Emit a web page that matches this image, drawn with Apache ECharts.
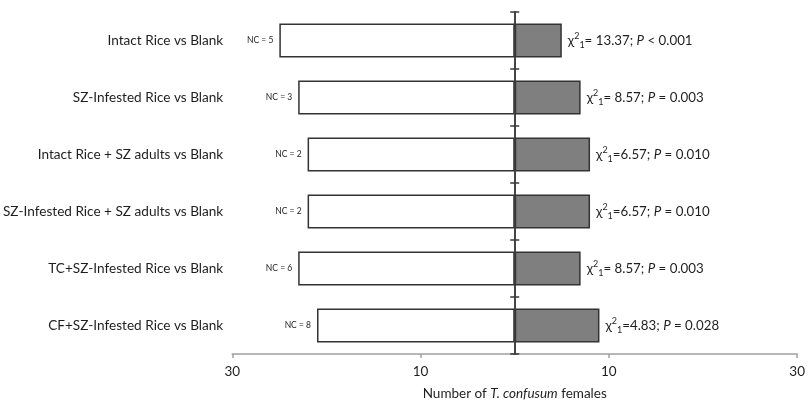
<!DOCTYPE html>
<html><head><meta charset="utf-8">
<script src="https://cdn.jsdelivr.net/npm/echarts@6/dist/echarts.min.js"></script>
<style>html,body{margin:0;padding:0;background:#fff}#c{width:808px;height:406px}</style>
</head><body><div id="c"></div>
<script>
const categories = [
  'Intact Rice vs Blank',
  'SZ-Infested Rice vs Blank',
  'Intact Rice + SZ adults vs Blank',
  'SZ-Infested Rice + SZ adults vs Blank',
  'TC+SZ-Infested Rice vs Blank',
  'CF+SZ-Infested Rice vs Blank'
];
const leftCounts = [25, 23, 22, 22, 23, 21];
const rightCounts = [5, 7, 8, 8, 7, 9];
const ncLabels = ['NC = 5', 'NC = 3', 'NC = 2', 'NC = 2', 'NC = 6', 'NC = 8'];
const chiTexts = ['= 13.37', '= 8.57', '=6.57', '=6.57', '= 8.57', '=4.83'];
const pTexts = ['< 0.001', '= 0.003', '= 0.010', '= 0.010', '= 0.003', '= 0.028'];
const xTickValues = [-30, -10, 10, 30];

const FONT = 'Lato';
const TXT = '#1e1e1e';
const chart = echarts.init(document.getElementById('c'), null, {renderer: 'canvas'});

const catAxisBase = {
  type: 'category', data: categories, inverse: true, boundaryGap: true
};

chart.setOption({
  animation: false,
  grid: {left: 232, right: 6, top: 12, bottom: 50, containLabel: false},
  xAxis: [
    {
      type: 'value', min: -30, max: 30, position: 'bottom',
      axisLine: {show: true, onZero: false, lineStyle: {color: '#a0a0a0', width: 1.5}},
      axisTick: {show: true, length: 4, customValues: xTickValues, lineStyle: {color: '#a0a0a0', width: 1.5}},
      axisLabel: {customValues: xTickValues, formatter: v => String(Math.abs(v)), color: TXT, fontFamily: FONT, fontSize: 13.5, margin: 11},
      splitLine: {show: false},
      name: '{n|Number of }{i|T. confusum}{n| females}',
      nameLocation: 'middle', nameGap: 33,
      nameTextStyle: {rich: {
        n: {fontFamily: FONT, fontSize: 13.5, color: TXT},
        i: {fontFamily: FONT, fontSize: 13.5, color: TXT, fontStyle: 'italic'}
      }},
      z: 0
    },
    {
      type: 'value', min: -30, max: 30, position: 'top', show: false
    }
  ],
  yAxis: [
    Object.assign({}, catAxisBase, {
      position: 'left',
      axisLine: {show: false, onZero: false},
      axisTick: {show: false},
      axisLabel: {color: TXT, fontFamily: FONT, fontSize: 13.6, margin: 9}
    }),
    Object.assign({}, catAxisBase, {
      position: 'left',
      axisLine: {show: true, onZero: true, onZeroAxisIndex: 0, lineStyle: {color: '#3a3a3a', width: 1.5}},
      axisTick: {show: true, length: 4.5, lineStyle: {color: '#3a3a3a', width: 1.5}},
      axisLabel: {show: false},
      z: 5
    }),
    Object.assign({}, catAxisBase, {
      position: 'right',
      axisLine: {show: true, onZero: true, onZeroAxisIndex: 1, lineStyle: {color: '#3a3a3a', width: 1.5}},
      axisTick: {show: true, length: 4.5, lineStyle: {color: '#3a3a3a', width: 1.5}},
      axisLabel: {show: false},
      z: 5
    })
  ],
  series: [
    {
      type: 'bar', name: 'left', stack: 'all', xAxisIndex: 0, yAxisIndex: 0,
      barWidth: 34,
      data: leftCounts.map(v => -v),
      itemStyle: {color: '#ffffff', borderColor: '#333333', borderWidth: 1.5},
      label: {
        show: true, position: 'left', distance: 6,
        formatter: p => ncLabels[p.dataIndex],
        fontFamily: FONT, fontSize: 8.5, color: TXT
      },
      z: 1
    },
    {
      type: 'bar', name: 'right', stack: 'all', xAxisIndex: 0, yAxisIndex: 0,
      barWidth: 34,
      data: rightCounts,
      itemStyle: {color: '#7f7f7f', borderColor: '#333333', borderWidth: 1.5},
      label: {
        show: true, position: 'right', distance: 6,
        formatter: p => '{t|χ}{sup|2}{sub|1}{t|' + chiTexts[p.dataIndex] + '; }{i|P}{t| ' + pTexts[p.dataIndex] + '}',
        rich: {
          t: {fontFamily: FONT, fontSize: 13.3, color: TXT, lineHeight: 18},
          i: {fontFamily: FONT, fontSize: 13.3, color: TXT, fontStyle: 'italic', lineHeight: 18},
          sup: {fontFamily: FONT, fontSize: 9, color: TXT, verticalAlign: 'top', lineHeight: 9},
          sub: {fontFamily: FONT, fontSize: 9, color: TXT, verticalAlign: 'bottom', lineHeight: 9}
        }
      },
      z: 1
    }
  ]
});
</script></body></html>
